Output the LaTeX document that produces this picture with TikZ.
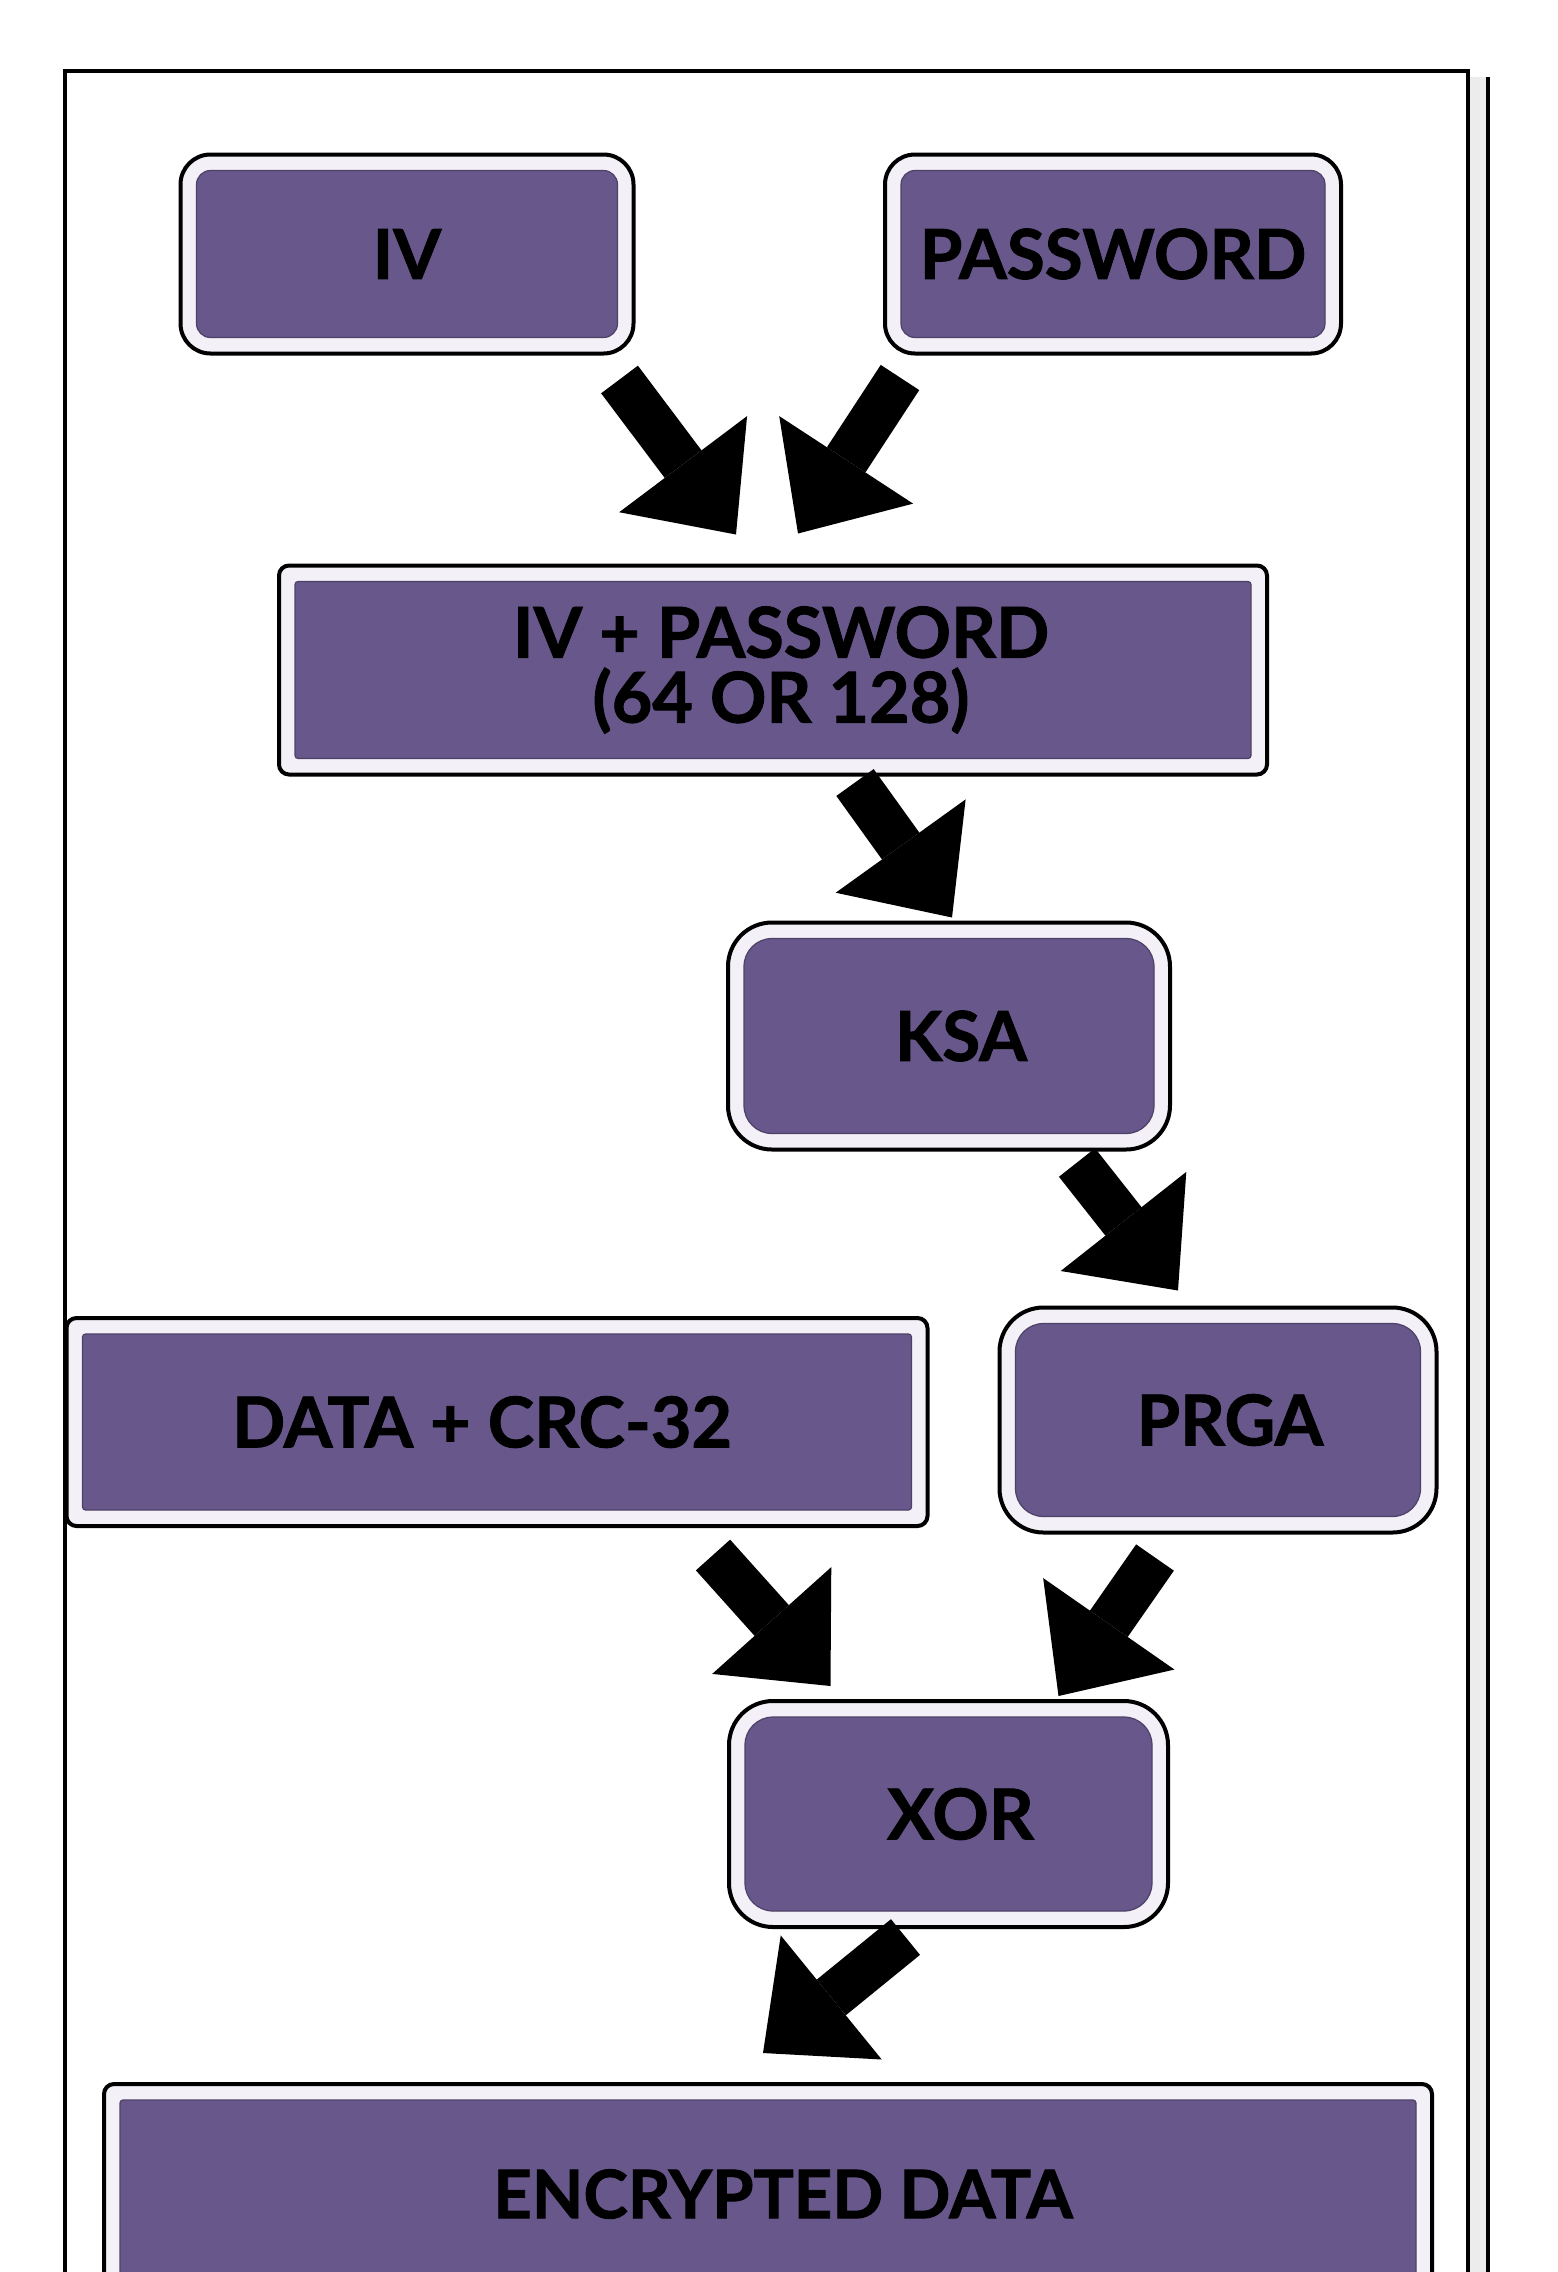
\documentclass[tikz,border=0pt]{standalone}
\usepackage{fontspec}
\setmainfont{Lato}[BoldFeatures={FakeBold=1.3}]
\usetikzlibrary{arrows.meta}
\definecolor{boxpurple}{RGB}{104,87,139}
\definecolor{ringwhite}{RGB}{243,240,247}
\definecolor{stripgray}{RGB}{236,236,236}
\tikzset{
  ringbox/.style 2 args={draw=black, line width=2pt, fill=ringwhite, inner sep=0pt,
    text=black, align=center, rounded corners=#1,
    path picture={\fill[boxpurple, draw=boxpurple!75!black, line width=0.6pt, rounded corners=#2]
      ([shift={(8pt,8pt)}]path picture bounding box.south west) rectangle
      ([shift={(-8pt,-8pt)}]path picture bounding box.north east);}},
  bigfont/.style={font=\fontsize{34.5pt}{42pt}\selectfont\bfseries},
  midfont/.style={font=\fontsize{35pt}{42pt}\selectfont\bfseries},
  twofont/.style={font=\fontsize{35pt}{32.5pt}\selectfont\bfseries},
  bigarrow/.style={line width=23pt, -{Triangle[length=44pt,width=80pt,line width=0pt]}},
  frameline/.style={line width=2pt, draw=black}
}
\begin{document}
\begin{tikzpicture}[x=0.5pt,y=-0.5pt]
\useasboundingbox (0,0) rectangle (1558,2272);
\clip (0,0) rectangle (1558,2272);
\fill[white] (0,0) rectangle (1558,2272);
% frame
\fill[stripgray] (1470,77) rectangle (1486,2300);
\draw[frameline] (65,2320) -- (65,71) -- (1468,71) -- (1468,2320);
\draw[frameline] (1488,77) -- (1488,2320);
% boxes
\node[ringbox={15pt}{7pt}, minimum width=226.5pt, minimum height=99.5pt, bigfont] (iv) at (407,254) {IV};
\node[ringbox={15pt}{7pt}, minimum width=228pt, minimum height=99.5pt, bigfont] (pw) at (1113,254) {PASSWORD};
\node[ringbox={5pt}{1.5pt}, minimum width=494pt, minimum height=104.5pt, twofont] (ivpw) at (773,670) {\kern8pt IV + PASSWORD\\\kern8pt (64 OR 128)};
\node[ringbox={22pt}{14pt}, minimum width=221pt, minimum height=113.5pt, bigfont] (ksa) at (949,1036) {\kern12pt KSA};
\node[ringbox={5pt}{1.5pt}, minimum width=430.5pt, minimum height=104pt, font=\fontsize{35pt}{42pt}\selectfont\bfseries] (data) at (497,1422) {DATA + CRC-32\kern15pt};
\node[ringbox={22pt}{14pt}, minimum width=218.5pt, minimum height=112.5pt, midfont] (prga) at (1218,1420) {\kern12pt PRGA};
\node[ringbox={22pt}{14pt}, minimum width=219.5pt, minimum height=113pt, midfont] (xor) at (948.5,1814) {\kern12pt XOR};
\node[ringbox={5pt}{1.5pt}, minimum width=664pt, minimum height=110pt, font=\fontsize{33.5pt}{42pt}\selectfont\bfseries] (enc) at (768,2194) {\kern15pt ENCRYPTED DATA};
% arrows
\draw[bigarrow] ([shift={(-16,24)}]iv.south east) -- ([shift={(-37,-29)}]ivpw.north);
\draw[bigarrow] ([shift={(17,22)}]pw.south west) -- ([shift={(25,-30)}]ivpw.north);
\draw[bigarrow] ([shift={(82,6)}]ivpw.south) -- ([shift={(3,-3)}]ksa.north);
\draw[bigarrow] ([shift={(128,11)}]ksa.south) -- ([shift={(-40,-15)}]prga.north);
\draw[bigarrow] ([shift={(216,27)}]data.south) -- ([shift={(-118,-13)}]xor.north);
\draw[bigarrow] ([shift={(-63,23)}]prga.south) -- ([shift={(110,-3)}]xor.north);
\draw[bigarrow] ([shift={(-43,8)}]xor.south) -- ([shift={(-5,-29)}]enc.north);
\end{tikzpicture}
\end{document}
